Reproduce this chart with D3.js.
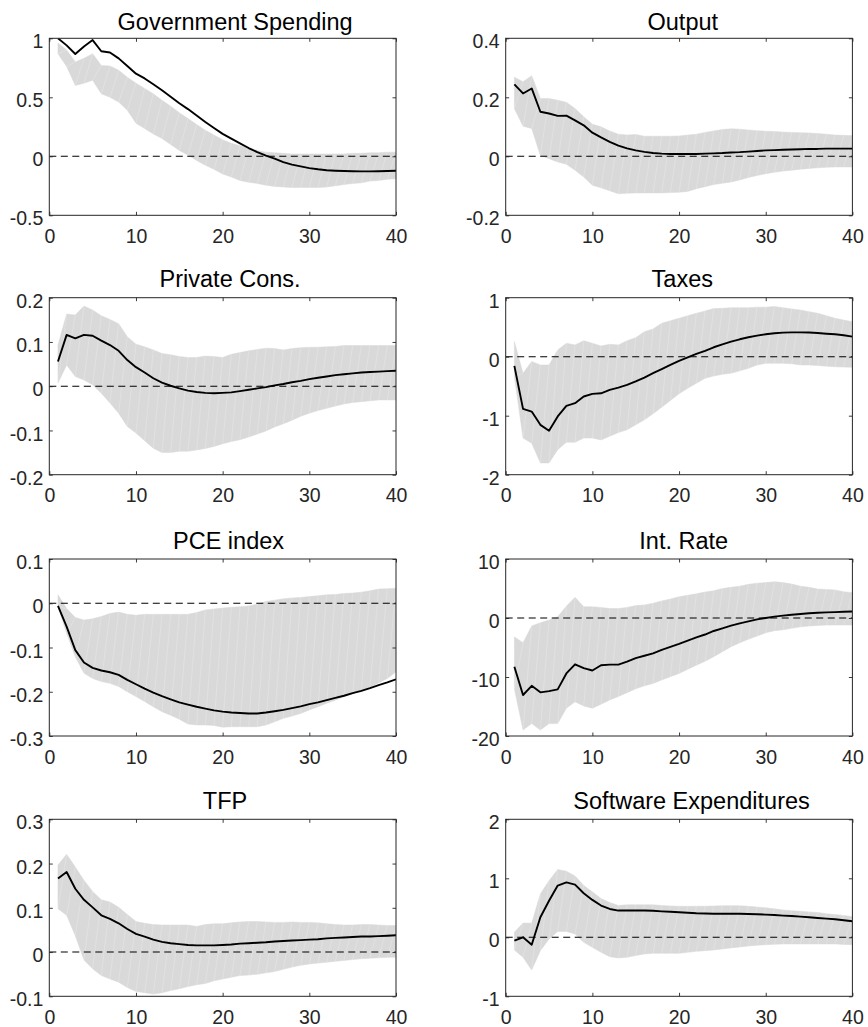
<!DOCTYPE html>
<html>
<head>
<meta charset="utf-8">
<script src="https://cdn.jsdelivr.net/npm/d3@7"></script>
<style>
  html, body { margin: 0; padding: 0; background: #fff; }
  svg { display: block; }
  text { font-family: "Liberation Sans", Arial, Helvetica, sans-serif; }
</style>
</head>
<body>
<svg id="chart" width="868" height="1027"></svg>
<script>
// ---------------- DATA ----------------
const horizons = [1,2,3,4,5,6,7,8,9,10,11,12,13,14,15,16,17,18,19,20,21,22,23,24,25,26,27,28,29,30,31,32,33,34,35,36,37,38,39,40];
const xTicks = [0, 10, 20, 30, 40];

const titles = ["Government Spending", "Output", "Private Cons.", "Taxes", "PCE index", "Int. Rate", "TFP", "Software Expenditures"];

// Government Spending
const govLine  = [1.0,0.94,0.867,0.93,0.985,0.89,0.88,0.83,0.765,0.70,0.66,0.61,0.56,0.505,0.45,0.40,0.345,0.29,0.24,0.19,0.15,0.11,0.07,0.035,0.005,-0.02,-0.05,-0.07,-0.085,-0.10,-0.11,-0.118,-0.122,-0.125,-0.127,-0.128,-0.128,-0.127,-0.125,-0.122];
const govUpper = [0.96,0.90,0.80,0.83,0.87,0.77,0.765,0.73,0.67,0.62,0.575,0.53,0.475,0.425,0.37,0.32,0.27,0.22,0.18,0.14,0.11,0.09,0.07,0.05,0.035,0.03,0.025,0.02,0.02,0.02,0.02,0.02,0.02,0.02,0.025,0.025,0.03,0.03,0.035,0.035];
const govLower = [0.87,0.76,0.60,0.62,0.645,0.53,0.50,0.46,0.39,0.28,0.235,0.19,0.15,0.10,0.05,0.01,-0.035,-0.075,-0.11,-0.15,-0.175,-0.205,-0.22,-0.23,-0.245,-0.255,-0.26,-0.265,-0.265,-0.265,-0.265,-0.26,-0.25,-0.24,-0.23,-0.225,-0.21,-0.205,-0.195,-0.19];
const govTicks = [-0.5, 0, 0.5, 1];

// Output
const outLine  = [0.244,0.213,0.23,0.151,0.145,0.137,0.138,0.122,0.105,0.08,0.064,0.049,0.036,0.027,0.02,0.015,0.011,0.009,0.008,0.008,0.008,0.008,0.009,0.01,0.011,0.013,0.014,0.016,0.018,0.02,0.021,0.022,0.023,0.024,0.025,0.025,0.026,0.026,0.026,0.026];
const outUpper = [0.268,0.253,0.273,0.196,0.196,0.19,0.183,0.162,0.134,0.109,0.10,0.086,0.075,0.072,0.074,0.068,0.068,0.068,0.068,0.069,0.072,0.075,0.081,0.086,0.091,0.093,0.092,0.089,0.087,0.085,0.084,0.082,0.081,0.08,0.079,0.077,0.075,0.072,0.071,0.07];
const outLower = [0.162,0.102,0.094,0.003,-0.008,-0.019,-0.027,-0.047,-0.07,-0.098,-0.107,-0.117,-0.127,-0.125,-0.124,-0.124,-0.124,-0.124,-0.123,-0.122,-0.119,-0.11,-0.103,-0.096,-0.091,-0.087,-0.08,-0.072,-0.065,-0.059,-0.054,-0.05,-0.047,-0.044,-0.041,-0.039,-0.037,-0.036,-0.036,-0.036];
const outTicks = [-0.2, 0, 0.2, 0.4];

// Private Cons.
const consLine  = [0.056,0.116,0.108,0.116,0.114,0.103,0.093,0.08,0.059,0.043,0.031,0.018,0.008,0.001,-0.005,-0.01,-0.013,-0.015,-0.016,-0.015,-0.014,-0.011,-0.008,-0.005,-0.002,0.002,0.005,0.009,0.012,0.016,0.019,0.022,0.025,0.027,0.029,0.031,0.032,0.033,0.034,0.035];
const consUpper = [0.093,0.163,0.161,0.181,0.172,0.159,0.151,0.141,0.112,0.095,0.089,0.082,0.074,0.071,0.067,0.065,0.065,0.068,0.067,0.065,0.072,0.076,0.08,0.083,0.086,0.085,0.082,0.085,0.087,0.088,0.088,0.089,0.09,0.092,0.092,0.092,0.092,0.092,0.092,0.092];
const consLower = [0.007,0.048,0.022,0.014,0.003,-0.016,-0.038,-0.061,-0.091,-0.106,-0.123,-0.14,-0.15,-0.15,-0.147,-0.147,-0.144,-0.141,-0.136,-0.13,-0.125,-0.121,-0.115,-0.108,-0.101,-0.092,-0.085,-0.077,-0.068,-0.061,-0.055,-0.05,-0.045,-0.04,-0.037,-0.035,-0.033,-0.031,-0.031,-0.031];
const consTicks = [-0.2, -0.1, 0, 0.1, 0.2];

// Taxes
const taxLine  = [-0.156,-0.884,-0.93,-1.155,-1.256,-1.013,-0.833,-0.788,-0.675,-0.63,-0.62,-0.563,-0.523,-0.478,-0.42,-0.353,-0.28,-0.21,-0.14,-0.07,-0.01,0.047,0.10,0.16,0.21,0.256,0.295,0.33,0.357,0.38,0.397,0.408,0.413,0.413,0.41,0.402,0.39,0.38,0.363,0.34];
const taxUpper = [0.256,-0.28,-0.08,-0.14,-0.14,0.115,0.227,0.2,0.272,0.227,0.182,0.21,0.2,0.272,0.323,0.425,0.47,0.566,0.61,0.65,0.695,0.735,0.775,0.815,0.82,0.83,0.83,0.83,0.84,0.84,0.85,0.83,0.81,0.79,0.763,0.735,0.695,0.65,0.62,0.594];
const taxLower = [-0.337,-1.38,-1.465,-1.8,-1.8,-1.575,-1.45,-1.45,-1.38,-1.38,-1.41,-1.35,-1.285,-1.24,-1.155,-1.07,-0.968,-0.855,-0.743,-0.63,-0.535,-0.45,-0.366,-0.327,-0.298,-0.28,-0.24,-0.197,-0.14,-0.113,-0.113,-0.113,-0.12,-0.14,-0.14,-0.15,-0.16,-0.17,-0.175,-0.18];
const taxTicks = [-2, -1, 0, 1];

// PCE index
const pceLine  = [-0.006,-0.053,-0.106,-0.134,-0.146,-0.152,-0.156,-0.162,-0.173,-0.183,-0.193,-0.202,-0.21,-0.217,-0.224,-0.229,-0.234,-0.238,-0.242,-0.245,-0.247,-0.248,-0.249,-0.249,-0.247,-0.244,-0.241,-0.237,-0.233,-0.228,-0.224,-0.219,-0.214,-0.209,-0.203,-0.198,-0.192,-0.185,-0.179,-0.172];
const pceUpper = [0.019,-0.012,-0.032,-0.038,-0.035,-0.03,-0.023,-0.02,-0.025,-0.027,-0.025,-0.025,-0.025,-0.025,-0.025,-0.025,-0.021,-0.015,-0.013,-0.011,-0.009,-0.008,-0.006,-0.002,0.004,0.007,0.01,0.012,0.013,0.015,0.017,0.019,0.02,0.022,0.023,0.025,0.028,0.032,0.033,0.034];
const pceLower = [-0.008,-0.068,-0.121,-0.158,-0.17,-0.177,-0.181,-0.188,-0.2,-0.211,-0.222,-0.234,-0.245,-0.253,-0.262,-0.273,-0.275,-0.275,-0.276,-0.28,-0.279,-0.279,-0.279,-0.279,-0.275,-0.268,-0.26,-0.255,-0.249,-0.241,-0.234,-0.226,-0.219,-0.211,-0.204,-0.196,-0.189,-0.18,-0.17,-0.155];
const pceTicks = [-0.3, -0.2, -0.1, 0, 0.1];

// Int. Rate
const rateLine  = [-8.25,-13.05,-11.5,-12.6,-12.4,-12.1,-9.4,-7.85,-8.5,-8.9,-8.0,-7.9,-7.9,-7.4,-6.8,-6.4,-6.0,-5.4,-4.9,-4.4,-3.85,-3.3,-2.8,-2.2,-1.75,-1.3,-0.9,-0.56,-0.23,0.0,0.23,0.4,0.56,0.68,0.8,0.9,0.96,1.0,1.07,1.1];
const rateUpper = [-3.2,-4.2,-1.35,-0.8,-0.35,0.2,2.0,3.5,1.9,1.9,1.8,1.6,1.6,1.8,2.1,2.2,2.5,2.9,3.2,3.6,3.85,4.1,4.4,4.6,5.0,5.2,5.4,5.7,5.9,6.0,6.15,6.0,5.75,5.4,5.2,4.9,4.85,4.75,4.45,4.3];
const rateLower = [-12.0,-19.0,-17.9,-19.0,-17.9,-17.9,-15.3,-14.2,-14.9,-15.3,-14.6,-13.9,-13.3,-12.65,-12.0,-11.5,-11.1,-10.5,-9.95,-9.4,-8.7,-8.0,-7.35,-6.55,-5.7,-4.86,-4.2,-3.6,-3.05,-2.5,-2.15,-2.0,-1.75,-1.5,-1.35,-1.25,-1.2,-1.2,-1.2,-1.2];
const rateTicks = [-20, -10, 0, 10];

// TFP
const tfpLine  = [0.166,0.181,0.143,0.118,0.101,0.083,0.075,0.065,0.052,0.041,0.035,0.028,0.023,0.02,0.018,0.016,0.015,0.015,0.015,0.016,0.017,0.019,0.02,0.021,0.022,0.024,0.025,0.026,0.027,0.028,0.029,0.031,0.032,0.033,0.034,0.035,0.035,0.036,0.037,0.038];
const tfpUpper = [0.197,0.221,0.192,0.162,0.137,0.118,0.113,0.101,0.085,0.069,0.065,0.062,0.061,0.061,0.061,0.061,0.058,0.062,0.064,0.064,0.066,0.068,0.069,0.069,0.068,0.067,0.067,0.068,0.067,0.067,0.066,0.064,0.062,0.061,0.061,0.062,0.062,0.061,0.06,0.06];
const tfpLower = [0.098,0.083,0.037,-0.018,-0.038,-0.053,-0.061,-0.068,-0.08,-0.089,-0.092,-0.095,-0.092,-0.087,-0.083,-0.078,-0.074,-0.071,-0.065,-0.061,-0.057,-0.053,-0.052,-0.05,-0.047,-0.044,-0.039,-0.034,-0.03,-0.027,-0.025,-0.023,-0.021,-0.019,-0.017,-0.015,-0.014,-0.013,-0.012,-0.012];
const tfpTicks = [-0.1, 0, 0.1, 0.2, 0.3];

// Software Expenditures
const softLine  = [-0.057,0.0,-0.125,0.34,0.62,0.877,0.93,0.894,0.747,0.634,0.538,0.48,0.453,0.453,0.453,0.455,0.45,0.44,0.432,0.425,0.416,0.407,0.403,0.40,0.40,0.40,0.398,0.396,0.39,0.385,0.377,0.368,0.36,0.35,0.34,0.328,0.317,0.306,0.29,0.272];
const softUpper = [0.085,0.243,0.238,0.736,0.96,1.15,1.12,1.04,0.88,0.77,0.656,0.59,0.54,0.55,0.55,0.55,0.55,0.54,0.53,0.526,0.526,0.526,0.528,0.53,0.535,0.535,0.535,0.526,0.513,0.5,0.482,0.464,0.452,0.44,0.43,0.42,0.4,0.385,0.37,0.35];
const softLower = [-0.215,-0.34,-0.555,-0.226,-0.028,0.10,0.10,0.057,-0.085,-0.17,-0.255,-0.328,-0.35,-0.34,-0.31,-0.283,-0.272,-0.272,-0.272,-0.272,-0.255,-0.238,-0.226,-0.215,-0.197,-0.18,-0.163,-0.147,-0.136,-0.125,-0.119,-0.113,-0.113,-0.113,-0.113,-0.113,-0.113,-0.113,-0.12,-0.125];
const softTicks = [-1, 0, 1, 2];

// ---------------- LAYOUT ----------------
const panels = [
  { title: titles[0], line: govLine,  upper: govUpper,  lower: govLower,  ticks: govTicks },
  { title: titles[1], line: outLine,  upper: outUpper,  lower: outLower,  ticks: outTicks },
  { title: titles[2], line: consLine, upper: consUpper, lower: consLower, ticks: consTicks },
  { title: titles[3], line: taxLine,  upper: taxUpper,  lower: taxLower,  ticks: taxTicks },
  { title: titles[4], line: pceLine,  upper: pceUpper,  lower: pceLower,  ticks: pceTicks },
  { title: titles[5], line: rateLine, upper: rateUpper, lower: rateLower, ticks: rateTicks },
  { title: titles[6], line: tfpLine,  upper: tfpUpper,  lower: tfpLower,  ticks: tfpTicks },
  { title: titles[7], line: softLine, upper: softUpper, lower: softLower, ticks: softTicks }
];

const colX = [49.3, 505.7];
const rowY = [38.3, 297.7, 559, 819.3];
const W = 346.7, H = 177;
const axisColor = "#262626";
const bandColor = "#d9d9d9";
const tickLen = 3.5;
const FONT = '"Liberation Sans", Arial, Helvetica, sans-serif';
const tickFont = 19.5, titleFont = 23.5;

const svg = d3.select("#chart");

panels.forEach((p, i) => {
  const col = i % 2, row = Math.floor(i / 2);
  const g = svg.append("g").attr("transform", `translate(${colX[col]},${rowY[row]})`);
  const x = d3.scaleLinear().domain([0, 40]).range([0, W]);
  const yDom = d3.extent(p.ticks);
  const y = d3.scaleLinear().domain(yDom).range([H, 0]);

  const clipId = "clip" + i;
  g.append("clipPath").attr("id", clipId).append("rect").attr("width", W).attr("height", H);
  const plot = g.append("g").attr("clip-path", `url(#${clipId})`);

  const rows = horizons.map((h, k) => ({ h, v: p.line[k], u: p.upper[k], l: p.lower[k] }));

  plot.append("path")
    .datum(rows)
    .attr("fill", bandColor)
    .attr("stroke", bandColor)
    .attr("stroke-width", 0.5)
    .attr("d", d3.area().x(d => x(d.h)).y0(d => y(d.l)).y1(d => y(d.u)));

  // faint triangulation seams like the original fill
  const seams = rows.slice(0, -1).map((d, k) => ({ a: d, b: rows[k + 1] }));
  plot.append("g").selectAll("line").data(seams).join("line")
    .attr("x1", s => x(s.a.h)).attr("y1", s => y(s.a.l))
    .attr("x2", s => x(s.b.h)).attr("y2", s => y(s.b.u))
    .attr("stroke", "#fff").attr("stroke-opacity", 0.35).attr("stroke-width", 0.6);

  plot.append("line")
    .attr("x1", x(0)).attr("x2", x(40))
    .attr("y1", y(0)).attr("y2", y(0))
    .attr("stroke", "#000").attr("stroke-width", 1.1)
    .attr("stroke-dasharray", "7,4.5");

  plot.append("path")
    .datum(rows)
    .attr("fill", "none")
    .attr("stroke", "#000")
    .attr("stroke-width", 1.9)
    .attr("stroke-linejoin", "round")
    .attr("d", d3.line().x(d => x(d.h)).y(d => y(d.v)));

  // axes (box with inward ticks on all sides)
  const fmt = d => String(d);
  const ax = g.append("g").attr("class", "axes");
  const bottom = d3.axisBottom(x).tickValues(xTicks).tickSizeInner(-tickLen).tickSizeOuter(0).tickFormat(fmt).tickPadding(0);
  const top = d3.axisTop(x).tickValues(xTicks).tickSizeInner(-tickLen).tickSizeOuter(0).tickFormat("");
  const left = d3.axisLeft(y).tickValues(p.ticks).tickSizeInner(-tickLen).tickSizeOuter(0).tickFormat(fmt);
  const right = d3.axisRight(y).tickValues(p.ticks).tickSizeInner(-tickLen).tickSizeOuter(0).tickFormat("");

  const gb = ax.append("g").attr("transform", `translate(0,${H})`).call(bottom);
  const gt = ax.append("g").call(top);
  const gl = ax.append("g").call(left);
  const gr = ax.append("g").attr("transform", `translate(${W},0)`).call(right);

  [gb, gt, gl, gr].forEach(a => {
    a.attr("font-size", null).attr("font-family", null);
    a.select(".domain").remove();
    a.selectAll(".tick line").attr("stroke", axisColor).attr("stroke-width", 0.9);
  });
  gb.selectAll("text").attr("y", 27.5).attr("dy", 0)
    .attr("fill", axisColor).style("font-size", tickFont + "px")
    .style("font-family", FONT);
  gl.selectAll("text").attr("x", -6).attr("dy", 0).attr("y", 9.6)
    .attr("fill", axisColor).style("font-size", tickFont + "px")
    .style("font-family", FONT);

  ax.append("rect")
    .attr("x", 0).attr("y", 0).attr("width", W).attr("height", H)
    .attr("fill", "none").attr("stroke", axisColor).attr("stroke-width", 1);

  // title
  const tY = row === 0 ? -8.3 : -10.5;
  const t = g.append("text")
    .attr("x", W / 2).attr("y", tY)
    .attr("text-anchor", "start")
    .style("font-size", titleFont + "px")
    .style("font-family", FONT)
    .attr("fill", "#000")
    .text(p.title);
  const tw = t.node().getComputedTextLength();
  t.attr("x", W / 2 - 0.447 * tw);
});
</script>
</body>
</html>
